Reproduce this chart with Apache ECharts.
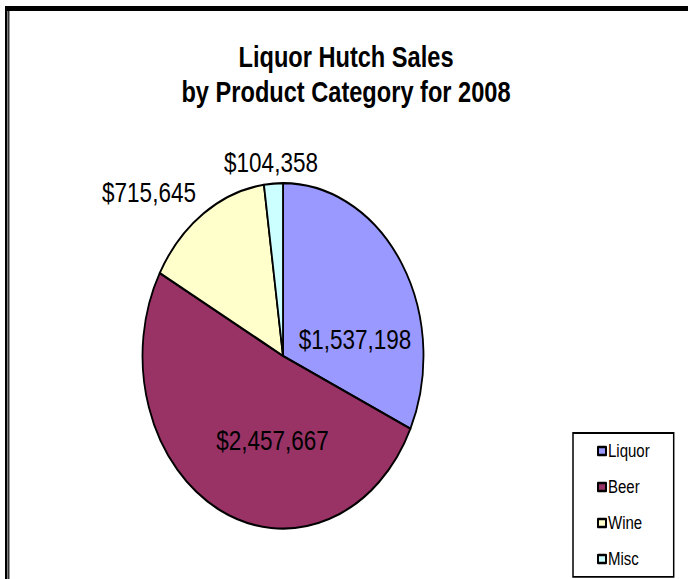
<!DOCTYPE html>
<html>
<head>
<meta charset="utf-8">
<script src="https://cdn.jsdelivr.net/npm/echarts@6/dist/echarts.min.js"></script>
<style>
  html, body { margin: 0; padding: 0; background: #fff; overflow: hidden; }
  #wrap { width: 688px; height: 579px; overflow: hidden; }
  /* the sheet-style chart is drawn on a short canvas and stretched vertically */
  #chart { width: 688px; height: 471px; transform: scaleY(1.2293); transform-origin: 0 0; }
</style>
</head>
<body>
<div id="wrap"><div id="chart"></div></div>
<script>
// Sales by product category, 2008
const categories = ['Liquor', 'Beer', 'Wine', 'Misc'];
const sales = [1537198, 2457667, 715645, 104358];
const titleLines = ['Liquor Hutch Sales', 'by Product Category for 2008'];

// styling
const sliceColors = ['#9999FF', '#993366', '#FFFFCC', '#CCFFFF'];
const labelAnchors = [[355, 276.2], [272.5, 357.9], [149, 156.2], [271, 132.2]];
const FONT = '"Liberation Sans", Arial, sans-serif';

const money = v => '$' + v.toLocaleString('en-US');

const chart = echarts.init(document.getElementById('chart'), null, { renderer: 'svg' });

chart.setOption({
  animation: false,
  backgroundColor: '#fff',
  title: {
    text: titleLines.join('\n'),
    left: 346,
    textAlign: 'center',
    top: 32,
    padding: 0,
    textStyle: {
      fontFamily: FONT,
      fontSize: 23.6,
      fontWeight: 'bold',
      color: '#000',
      lineHeight: 28.5
    }
  },
  legend: {
    data: categories,
    orient: 'vertical',
    left: 573,
    top: 352.2,
    height: 112,
    icon: 'rect',
    itemWidth: 8,
    itemHeight: 6.5,
    itemGap: 14.3,
    padding: [7.2, 24, 7, 24],
    backgroundColor: '#fff',
    borderColor: '#000',
    borderWidth: 1.5,
    selectedMode: false,
    textStyle: { fontFamily: FONT, fontSize: 15, color: '#000', padding: [0, 0, 0, -3] }
  },
  graphic: [
    { type: 'rect', shape: { x: 5, y: 4.9, width: 683, height: 4.1 }, style: { fill: '#000' } },
    { type: 'rect', shape: { x: 5, y: 4.9, width: 2.5, height: 480 }, style: { fill: '#000' } },
    { type: 'rect', shape: { x: 8.2, y: 8.9, width: 1.2, height: 480 }, style: { fill: '#000' } }
  ],
  series: [{
    type: 'pie',
    center: [283, 289.5],
    radius: 140.5,
    startAngle: 90,
    clockwise: true,
    avoidLabelOverlap: false,
    emphasis: { disabled: true },
    itemStyle: { borderColor: '#000', borderWidth: 1.8 },
    label: {
      show: true,
      position: 'inside',
      formatter: p => money(p.value),
      fontFamily: FONT,
      fontSize: 22.5,
      color: '#000'
    },
    labelLine: { show: false },
    labelLayout: p => ({
      x: labelAnchors[p.dataIndex][0],
      y: labelAnchors[p.dataIndex][1],
      align: 'center',
      verticalAlign: 'middle'
    }),
    data: categories.map((name, i) => ({
      name,
      value: sales[i],
      itemStyle: { color: sliceColors[i] }
    }))
  }]
});
</script>
</body>
</html>
